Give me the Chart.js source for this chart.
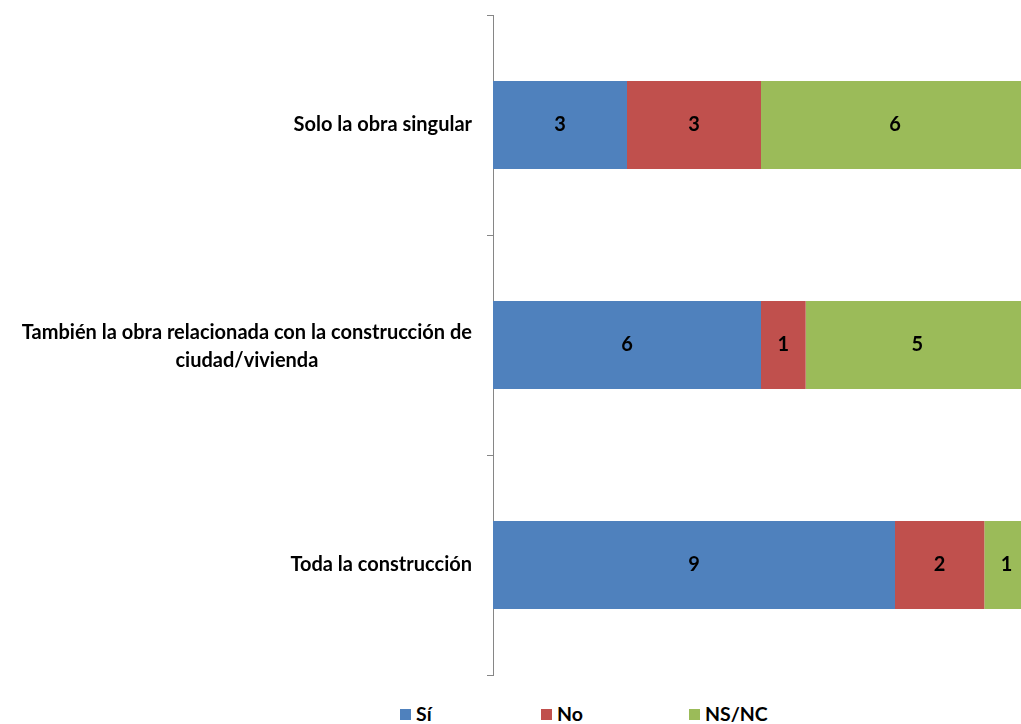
<!DOCTYPE html>
<html><head><meta charset="utf-8">
<script src="https://cdn.jsdelivr.net/npm/chart.js@4"></script>
<style>
html,body{margin:0;padding:0;overflow:hidden;background:#fff;width:1021px;height:724px;}
#wrap{position:absolute;left:0;top:0;width:1030px;height:690px;}
#legend{position:absolute;top:704px;left:0;width:1021px;height:20px;font:bold 19.5px Lato, sans-serif;color:#000;}
.item{position:absolute;top:0;display:flex;align-items:center;height:20px;line-height:20px;}
.sw{width:11px;height:11px;margin-right:5px;}
</style></head><body>
<div id="wrap"><canvas id="c"></canvas></div>
<div id="legend"></div>
<script>
const categories = [["Solo la obra singular"], ["También la obra relacionada con la construcción de", "ciudad/vivienda"], ["Toda la construcción"]];
const seriesNames = ["Sí", "No", "NS/NC"];
const siValues = [3, 6, 9];
const noValues = [3, 1, 2];
const nsncValues = [6, 5, 1];
const seriesColors = ["#4F81BD", "#C0504D", "#9BBB59"];
const xMax = 12;

const FONT = "Lato, 'Open Sans', sans-serif";
const legendLeft = [400, 541, 689];

const legend = document.getElementById('legend');
seriesNames.forEach((n, i) => {
  const d = document.createElement('div');
  d.className = 'item';
  d.style.left = legendLeft[i] + 'px';
  d.innerHTML = '<span class="sw" style="background:' + seriesColors[i] + '"></span><span>' + n + '</span>';
  legend.appendChild(d);
});

const labelPlugin = {
  id: 'labels',
  afterDraw(chart) {
    const ctx = chart.ctx;
    ctx.save();
    ctx.fillStyle = '#000';
    ctx.font = 'bold 20px ' + FONT;
    ctx.textAlign = 'center';
    ctx.textBaseline = 'middle';
    chart.data.datasets.forEach((ds, di) => {
      const meta = chart.getDatasetMeta(di);
      meta.data.forEach((el, i) => {
        const p = el.getCenterPoint();
        ctx.fillText(String(ds.data[i]), p.x, p.y);
      });
    });
    const ys = chart.scales.y;
    const lh = 28;
    categories.forEach((lines, i) => {
      const yc = ys.getPixelForTick(i);
      const maxW = Math.max(...lines.map(l => ctx.measureText(l).width));
      const cx = ys.right - 21 - maxW / 2;
      const y0 = yc - (lines.length - 1) * lh / 2 + (lines.length > 1 ? 2 : 0);
      lines.forEach((l, k) => ctx.fillText(l, cx, y0 + k * lh));
    });
    ctx.restore();
  }
};

const dataSets = [siValues, noValues, nsncValues];
new Chart(document.getElementById('c'), {
  type: 'bar',
  data: {
    labels: categories,
    datasets: seriesNames.map((n, i) => ({
      label: n, data: dataSets[i], backgroundColor: seriesColors[i],
      borderWidth: 0, barPercentage: 0.4, categoryPercentage: 1
    }))
  },
  options: {
    indexAxis: 'y', responsive: true, maintainAspectRatio: false, animation: false,
    layout: { padding: { top: 13, right: 1, bottom: 12, left: 0 } },
    plugins: { legend: { display: false }, tooltip: { enabled: false } },
    scales: {
      x: { stacked: true, display: false, min: 0, max: xMax },
      y: {
        stacked: true,
        border: { color: '#868686', width: 1 },
        grid: { drawOnChartArea: false, tickLength: 6, color: '#868686' },
        ticks: { color: 'rgba(0,0,0,0)', font: { size: 20, weight: 'bold', family: FONT } },
        afterFit(s) { s.width = 493; }
      }
    }
  },
  plugins: [labelPlugin]
});
</script>
</body></html>
